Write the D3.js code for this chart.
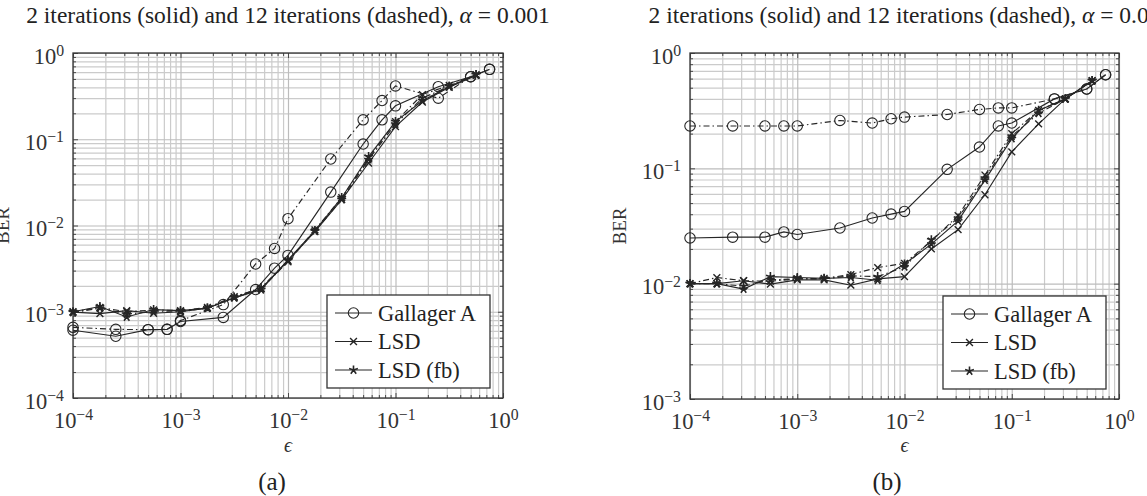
<!DOCTYPE html>
<html>
<head>
<meta charset="utf-8">
<script src="https://cdn.jsdelivr.net/npm/d3@7"></script>
<style>body{margin:0;background:#fff;}</style>
</head>
<body>
<script>
// epsilon grids used by the two decoders
var epsGal = [1e-4, 2.5e-4, 5e-4, 7.5e-4, 1e-3, 2.5e-3, 5e-3, 7.5e-3, 1e-2, 2.5e-2, 5e-2, 7.5e-2, 0.1, 0.25, 0.5, 0.75];
var epsLsd = [1e-4, 1.78e-4, 3.16e-4, 5.62e-4, 1e-3, 1.78e-3, 3.16e-3, 5.62e-3, 1e-2, 1.78e-2, 3.16e-2, 5.62e-2, 0.1, 0.178, 0.316, 0.562];

// panel (a), alpha = 0.001
var aGalSolid  = [6.1e-4, 5.2e-4, 6.2e-4, 6.25e-4, 7.7e-4, 8.6e-4, 1.81e-3, 3.2e-3, 4.5e-3, 2.44e-2, 8.8e-2, 0.168, 0.244, 0.407, 0.531, 0.646];
var aGalDashed = [6.6e-4, 6.25e-4, 6.2e-4, 6.25e-4, 7.9e-4, 1.21e-3, 3.58e-3, 5.42e-3, 1.2e-2, 5.9e-2, 0.168, 0.281, 0.415, 0.299, 0.531, 0.646];
var aLsdSolid  = [9.9e-4, 9.5e-4, 1.03e-3, 9.6e-4, 1.0e-3, 1.1e-3, 1.45e-3, 1.85e-3, 3.9e-3, 8.5e-3, 2.0e-2, 5.3e-2, 0.14, 0.27, 0.40, 0.55];
var aLsdDashed = [1.0e-3, 1.12e-3, 1.0e-3, 1.05e-3, 1.03e-3, 1.12e-3, 1.5e-3, 1.85e-3, 3.8e-3, 8.9e-3, 2.1e-2, 6.0e-2, 0.16, 0.33, 0.42, 0.56];
var aFbSolid   = [1.0e-3, 1.15e-3, 8.7e-4, 1.06e-3, 1.03e-3, 1.1e-3, 1.45e-3, 1.8e-3, 4.0e-3, 8.7e-3, 2.1e-2, 6.3e-2, 0.16, 0.28, 0.41, 0.56];
var aFbDashed  = [9.8e-4, 1.1e-3, 9.4e-4, 1.0e-3, 1.0e-3, 1.1e-3, 1.48e-3, 1.9e-3, 3.9e-3, 8.6e-3, 2.0e-2, 5.8e-2, 0.15, 0.30, 0.41, 0.56];

// panel (b)
var bGalSolid  = [0.0249, 0.0253, 0.0253, 0.0281, 0.0267, 0.0304, 0.0371, 0.0401, 0.0423, 0.098, 0.153, 0.233, 0.247, 0.40, 0.487, 0.648];
var bGalDashed = [0.233, 0.233, 0.233, 0.233, 0.233, 0.26, 0.247, 0.269, 0.278, 0.293, 0.324, 0.334, 0.334, 0.40, 0.487, 0.648];
var bLsdSolid  = [1.0e-2, 1.0e-2, 1.06e-2, 9.9e-3, 1.08e-2, 1.08e-2, 9.7e-3, 1.1e-2, 1.15e-2, 2.0e-2, 2.94e-2, 5.9e-2, 0.139, 0.243, 0.40, 0.575];
var bLsdDashed = [1.0e-2, 1.13e-2, 1.06e-2, 1.05e-2, 1.1e-2, 1.11e-2, 1.2e-2, 1.38e-2, 1.5e-2, 2.34e-2, 3.89e-2, 8.75e-2, 0.2, 0.318, 0.40, 0.575];
var bFbSolid   = [1.0e-2, 1.0e-2, 8.97e-3, 1.15e-2, 1.13e-2, 1.11e-2, 1.13e-2, 1.07e-2, 1.48e-2, 2.2e-2, 3.5e-2, 7.9e-2, 0.181, 0.318, 0.40, 0.575];
var bFbDashed  = [1.0e-2, 1.0e-2, 9.5e-3, 1.08e-2, 1.1e-2, 1.1e-2, 1.17e-2, 1.15e-2, 1.4e-2, 2.4e-2, 3.7e-2, 8.2e-2, 0.19, 0.30, 0.40, 0.575];

var xTickExp = [-4, -3, -2, -1, 0];
var aYTickExp = [-4, -3, -2, -1, 0];
var bYTickExp = [-3, -2, -1, 0];
var legendNames = ["Gallager A", "LSD", "LSD (fb)"];
var legendMarks = ["circle", "cross", "star"];

var ink = "#262626";
var dashPat = "6,3,1.5,3";

var svg = d3.select("body").append("svg")
  .attr("width", 1147).attr("height", 496)
  .style("font-family", "'Liberation Serif','Times New Roman',serif");

function drawMark(g, type, cx, cy) {
  if (type == "circle") {
    g.append("circle").attr("cx", cx).attr("cy", cy).attr("r", 5.2)
      .attr("fill", "none").attr("stroke", ink).attr("stroke-width", 1.1);
  } else if (type == "cross") {
    var r = 3.4;
    g.append("path").attr("d", "M" + (cx-r) + "," + (cy-r) + "L" + (cx+r) + "," + (cy+r) + "M" + (cx-r) + "," + (cy+r) + "L" + (cx+r) + "," + (cy-r))
      .attr("stroke", ink).attr("stroke-width", 1.4).attr("fill", "none");
  } else {
    var d = "";
    for (var i = 0; i < 5; i++) {
      var a = (-90 + 72*i) * Math.PI/180;
      d += "M" + cx + "," + cy + "L" + (cx + 4.6*Math.cos(a)) + "," + (cy + 4.6*Math.sin(a));
    }
    g.append("path").attr("d", d).attr("stroke", ink).attr("stroke-width", 1.6).attr("fill", "none");
  }
}

function expLabel(sel) {
  sel.selectAll("text").each(function(d) {
    var t = d3.select(this);
    var e = Math.round(Math.log10(d));
    t.text("");
    t.append("tspan").text("10");
    t.append("tspan").attr("dy", "-0.48em").attr("font-size", "0.7em").text(e < 0 ? "\u2212" + (-e) : "" + e);
  });
}

function drawPanel(p) {
  var x = d3.scaleLog().domain([1e-4, 1]).range([p.left, p.right]);
  var y = d3.scaleLog().domain([p.ymin, 1]).range([p.bottom, p.top]);
  var w = p.right - p.left, h = p.bottom - p.top;
  var g = svg.append("g");

  var xMajor = xTickExp.map(function(e){ return Math.pow(10, e); });
  var yMajor = p.yExp.map(function(e){ return Math.pow(10, e); });
  var xMinor = [], yMinor = [];
  xTickExp.slice(0, -1).forEach(function(e){ for (var m = 2; m <= 9; m++) xMinor.push(m * Math.pow(10, e)); });
  p.yExp.slice(0, -1).forEach(function(e){ for (var m = 2; m <= 9; m++) yMinor.push(m * Math.pow(10, e)); });

  function gridStyle(s, col) {
    s.select(".domain").remove();
    s.selectAll("line").attr("stroke", col).attr("stroke-width", 1.2);
  }
  // grid
  g.append("g").attr("transform", "translate(0," + p.bottom + ")")
    .call(d3.axisBottom(x).tickValues(xMinor).tickSize(-h).tickFormat(""))
    .call(gridStyle, "#cbcbcb");
  g.append("g").attr("transform", "translate(" + p.left + ",0)")
    .call(d3.axisLeft(y).tickValues(yMinor).tickSize(-w).tickFormat(""))
    .call(gridStyle, "#cbcbcb");
  g.append("g").attr("transform", "translate(0," + p.bottom + ")")
    .call(d3.axisBottom(x).tickValues(xMajor).tickSize(-h).tickFormat(""))
    .call(gridStyle, "#bcbcbc");
  g.append("g").attr("transform", "translate(" + p.left + ",0)")
    .call(d3.axisLeft(y).tickValues(yMajor).tickSize(-w).tickFormat(""))
    .call(gridStyle, "#bcbcbc");

  // inward ticks on all sides
  function tickStyle(s) {
    s.select(".domain").remove();
    s.selectAll("line").attr("stroke", "#4a4a4a").attr("stroke-width", 1);
  }
  g.append("g").attr("transform", "translate(0," + p.bottom + ")").call(d3.axisBottom(x).tickValues(xMinor).tickSize(-3).tickFormat("")).call(tickStyle);
  g.append("g").attr("transform", "translate(0," + p.top + ")").call(d3.axisTop(x).tickValues(xMinor).tickSize(-3).tickFormat("")).call(tickStyle);
  g.append("g").attr("transform", "translate(" + p.left + ",0)").call(d3.axisLeft(y).tickValues(yMinor).tickSize(-3).tickFormat("")).call(tickStyle);
  g.append("g").attr("transform", "translate(" + p.right + ",0)").call(d3.axisRight(y).tickValues(yMinor).tickSize(-3).tickFormat("")).call(tickStyle);
  g.append("g").attr("transform", "translate(0," + p.top + ")").call(d3.axisTop(x).tickValues(xMajor).tickSize(-5).tickFormat("")).call(tickStyle);
  g.append("g").attr("transform", "translate(" + p.right + ",0)").call(d3.axisRight(y).tickValues(yMajor).tickSize(-5).tickFormat("")).call(tickStyle);

  var xa = g.append("g").attr("transform", "translate(0," + p.bottom + ")")
    .call(d3.axisBottom(x).tickValues(xMajor).tickSize(-5))
    .call(tickStyle);
  xa.attr("font-size", 22.5).attr("font-family", null);
  xa.selectAll("text").attr("y", 30).attr("dy", null).attr("fill", "#333");
  expLabel(xa);

  var ya = g.append("g").attr("transform", "translate(" + p.left + ",0)")
    .call(d3.axisLeft(y).tickValues(yMajor).tickSize(-5))
    .call(tickStyle);
  ya.attr("font-size", 22.5).attr("font-family", null);
  ya.selectAll("text").attr("x", -9).attr("y", 10).attr("dy", null).attr("fill", "#333");
  expLabel(ya);

  // frame
  g.append("rect").attr("x", p.left).attr("y", p.top).attr("width", w).attr("height", h)
    .attr("fill", "none").attr("stroke", "#333").attr("stroke-width", 1.3);

  // series
  var line = d3.line().x(function(d){ return x(d[0]); }).y(function(d){ return y(d[1]); });
  p.series.forEach(function(s) {
    var pts = s.x.map(function(v, i){ return [v, s.y[i]]; });
    g.append("path").datum(pts).attr("d", line)
      .attr("fill", "none").attr("stroke", ink).attr("stroke-width", 1.15)
      .attr("stroke-dasharray", s.dashed ? dashPat : null);
    var mg = g.append("g");
    pts.forEach(function(d){ drawMark(mg, s.mark, x(d[0]), y(d[1])); });
  });

  // legend
  var lg = g.append("g").attr("transform", "translate(" + (p.right - 176) + "," + (p.bottom - 103) + ")");
  lg.append("rect").attr("width", 163).attr("height", 93)
    .attr("fill", "#fff").attr("stroke", "#333").attr("stroke-width", 1.3);
  legendNames.forEach(function(name, i) {
    var cy = 18 + i * 28.5;
    lg.append("line").attr("x1", 8).attr("x2", 45).attr("y1", cy).attr("y2", cy)
      .attr("stroke", ink).attr("stroke-width", 1.15);
    drawMark(lg, legendMarks[i], 26.5, cy);
    lg.append("text").attr("x", 51).attr("y", cy + 7.5).attr("font-size", 22.5).attr("fill", "#222").text(name);
  });

  // titles and axis labels
  var cx = (p.left + p.right) / 2;
  var tt = svg.append("text").attr("x", cx).attr("y", 23).attr("text-anchor", "middle")
    .attr("font-size", 23.5).attr("fill", "#222");
  tt.append("tspan").text("2 iterations (solid) and 12 iterations (dashed), ");
  tt.append("tspan").attr("font-style", "italic").text("\u03b1");
  tt.append("tspan").text(" = " + p.alpha);

  svg.append("text").attr("x", cx).attr("y", 452).attr("text-anchor", "middle")
    .attr("font-size", 20).attr("font-style", "italic").attr("fill", "#333").text("\u03f5");
  svg.append("text").attr("transform", "translate(" + (p.left - 64) + "," + ((p.top + p.bottom) / 2) + ") rotate(-90)")
    .attr("text-anchor", "middle").attr("font-size", 19).attr("fill", "#333").text("BER");
  svg.append("text").attr("x", p.capX).attr("y", 490).attr("text-anchor", "middle")
    .attr("font-size", 25).attr("fill", "#222").text(p.cap);
}

function seriesSet(gs, gd, ls, ld, fs, fd) {
  return [
    {x: epsGal, y: gs, mark: "circle", dashed: false},
    {x: epsGal, y: gd, mark: "circle", dashed: true},
    {x: epsLsd, y: ls, mark: "cross", dashed: false},
    {x: epsLsd, y: ld, mark: "cross", dashed: true},
    {x: epsLsd, y: fs, mark: "star", dashed: false},
    {x: epsLsd, y: fd, mark: "star", dashed: true}
  ];
}

drawPanel({left: 73, right: 503, top: 53, bottom: 398, ymin: 1e-4, yExp: aYTickExp, alpha: "0.001",
  cap: "(a)", capX: 272, series: seriesSet(aGalSolid, aGalDashed, aLsdSolid, aLsdDashed, aFbSolid, aFbDashed)});
drawPanel({left: 690, right: 1119, top: 53, bottom: 399, ymin: 1e-3, yExp: bYTickExp, alpha: "0.01",
  cap: "(b)", capX: 887, series: seriesSet(bGalSolid, bGalDashed, bLsdSolid, bLsdDashed, bFbSolid, bFbDashed)});
</script>
</body>
</html>
